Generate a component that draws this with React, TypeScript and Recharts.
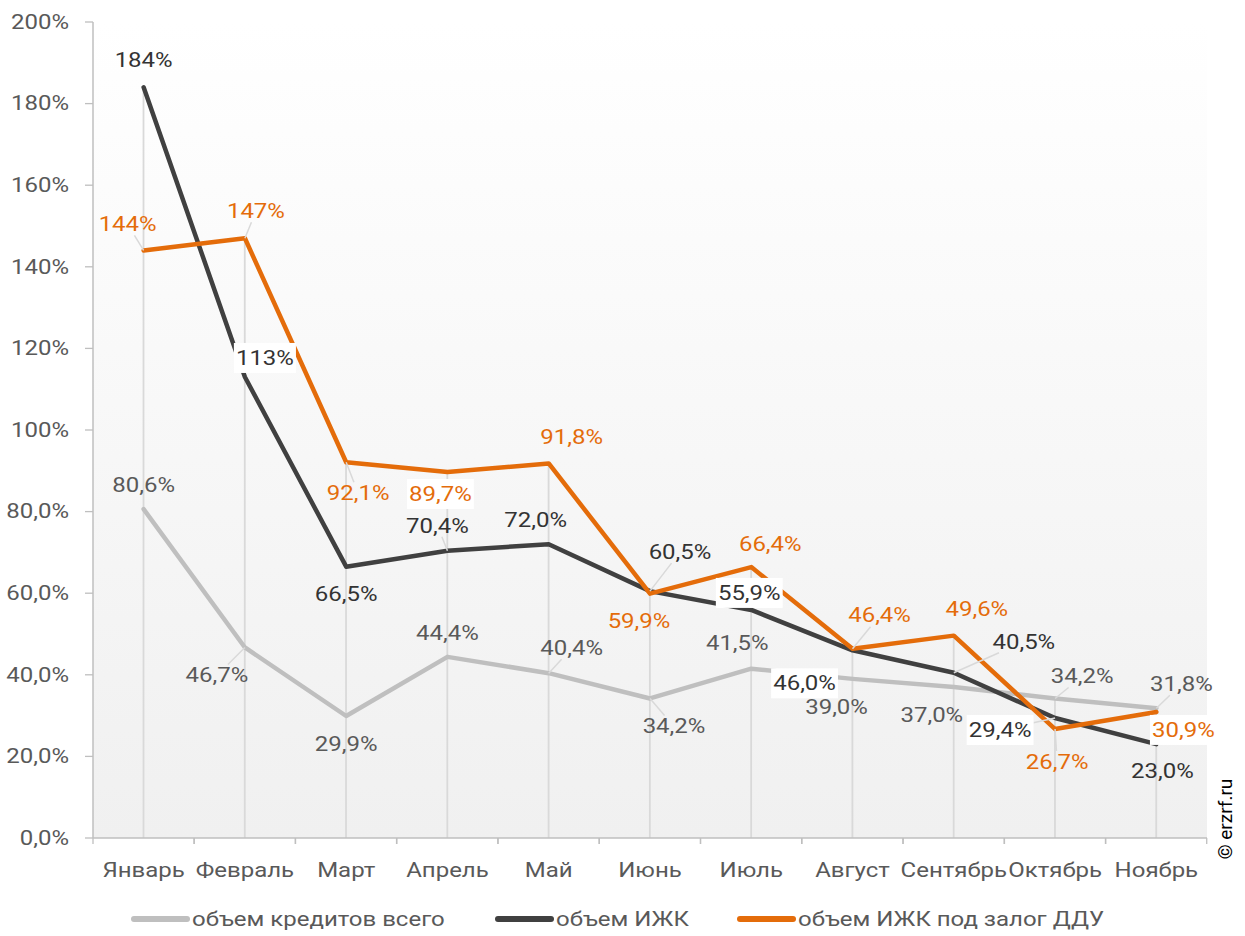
import React from 'react';
import { ComposedChart, Line, Bar, XAxis, YAxis, LabelList, CartesianGrid } from 'recharts';

const months = ['Январь', 'Февраль', 'Март', 'Апрель', 'Май', 'Июнь', 'Июль', 'Август', 'Сентябрь', 'Октябрь', 'Ноябрь'];
const totalCredits = [80.6, 46.7, 29.9, 44.4, 40.4, 34.2, 41.5, 39.0, 37.0, 34.2, 31.8];
const izhk = [184, 113, 66.5, 70.4, 72.0, 60.5, 55.9, 46.0, 40.5, 29.4, 23.0];
const izhkDdu = [144, 147, 92.1, 89.7, 91.8, 59.9, 66.4, 46.4, 49.6, 26.7, 30.9];
const yTicks = [0, 20, 40, 60, 80, 100, 120, 140, 160, 180, 200];
const seriesNames = ['объем кредитов всего', 'объем ИЖК', 'объем ИЖК под залог ДДУ'];
const copyright = '© erzrf.ru';

// label placement relative to the point (px): [dx, dy, whiteBackground, leaderLine]
const totalLabelPos: [number, number, boolean, boolean][] = [
  [0, -24, false, false], [-28, 28, false, true], [0, 28, false, false], [0, -24, false, false],
  [23, -25, false, true], [24, 28, false, true], [-14, -25, false, false], [-16, 28, false, false],
  [-22, 28, false, false], [27, -22, false, true], [25, -24, false, true],
];
const izhkLabelPos: [number, number, boolean, boolean][] = [
  [0, -27, false, false], [20, -19, true, false], [0, 28, false, false], [-10, -25, false, true],
  [-13, -24, false, false], [30, -39, false, true], [-2, -17, true, false], [-48, 33, true, false],
  [70, -31, false, true], [-55, 12, true, true], [6, 27, false, false],
];
const izhkDduLabelPos: [number, number, boolean, boolean][] = [
  [-16, -26, false, true], [11, -27, false, true], [12, 31, false, true], [-7, 22, true, false],
  [23, -26, false, false], [-11, 28, false, false], [19, -23, false, false], [27, -33, false, true],
  [23, -26, false, false], [2, 33, false, true], [27, 18, true, false],
];

const data = months.map((m, i) => ({
  month: m,
  total: totalCredits[i],
  izhk: izhk[i],
  ddu: izhkDdu[i],
  top: Math.max(totalCredits[i], izhk[i], izhkDdu[i]),
}));

const COLORS = { total: '#bfbfbf', izhk: '#404040', ddu: '#e46c0a' };
const LABEL_COLORS = { total: '#595959', izhk: '#333333', ddu: '#e46c0a' };
const FONT = 'Roboto, "Noto Sans", sans-serif';
const SX = 1.2;
const FS = 20;

const fmt = (v: number) => (v >= 100 ? `${Math.round(v)}%` : `${v.toFixed(1).replace('.', ',')}%`);

const charW = (c: string) => {
  if (/[0-9]/.test(c)) return 0.562;
  if (c === ',') return 0.2;
  if (c === '%') return 0.733;
  return 0.55;
};
const textWidth = (t: string) => t.split('').reduce((s, c) => s + charW(c), 0) * FS * SX;

function makeLabel(values: number[], pos: [number, number, boolean, boolean][], color: string) {
  return (props: any) => {
    const { x, y, value } = props;
    let index = props.index;
    if (index === undefined || index === null) index = values.indexOf(Number(value));
    const p = pos[index] || [0, -24, false, false];
    const [dx, dy, bg, leader] = p;
    const cx = x + dx;
    const cy = y + dy;
    const text = fmt(Number(value));
    const w = textWidth(text);
    const hw = w / 2 + 2;
    const hh = 11;
    let leaderEl = null;
    if (leader) {
      const vx = x - cx;
      const vy = y - cy;
      const f = Math.min(Math.abs(vx) > 0.01 ? hw / Math.abs(vx) : 1e9, Math.abs(vy) > 0.01 ? hh / Math.abs(vy) : 1e9);
      const ex = cx + vx * f;
      const ey = cy + vy * f;
      leaderEl = <line x1={x} y1={y} x2={ex} y2={ey} stroke="#d9d9d9" strokeWidth={1.5} />;
    }
    return (
      <g>
        {leaderEl}
        {bg && <rect x={cx - hw} y={cy - 15} width={hw * 2} height={30} fill="#ffffff" />}
        <g transform={`translate(${cx},${cy}) scale(${SX},1)`}>
          <text x={0} y={0} textAnchor="middle" dominantBaseline="central" fontFamily={FONT} fontSize={FS} fontWeight={400} fill={color}>
            {text}
          </text>
        </g>
      </g>
    );
  };
}

const DropLine = (props: any) => {
  const { x, y, width, height } = props;
  if (x === undefined) return null;
  const cx = x + width / 2;
  const bottom = y + height;
  return (
    <g>
      <line x1={cx} y1={y} x2={cx} y2={bottom} stroke="#d9d9d9" strokeWidth={1.8} />
      <line x1={x} y1={bottom} x2={x} y2={bottom + 6} stroke="#bfbfbf" strokeWidth={1.3} />
      <line x1={x + width} y1={bottom} x2={x + width} y2={bottom + 6} stroke="#bfbfbf" strokeWidth={1.3} />
    </g>
  );
};

const XTick = (props: any) => {
  const { x, y, payload } = props;
  return (
    <g transform={`translate(${x},${y + 24}) scale(${SX},1)`}>
      <text x={0} y={0} textAnchor="middle" dominantBaseline="central" fontFamily={FONT} fontSize={FS} fill="#595959">
        {payload.value}
      </text>
    </g>
  );
};

const YTick = (props: any) => {
  const { x, y, payload } = props;
  const v = Number(payload.value);
  return (
    <g transform={`translate(${x},${y}) scale(${SX},1)`}>
      <text x={0} y={0} textAnchor="end" dominantBaseline="central" fontFamily={FONT} fontSize={FS} fill="#595959">
        {fmt(v)}
      </text>
    </g>
  );
};

const legendItems = [
  { name: seriesNames[0], color: COLORS.total, x: 131 },
  { name: seriesNames[1], color: COLORS.izhk, x: 495 },
  { name: seriesNames[2], color: COLORS.ddu, x: 737 },
];

export default function App() {
  return (
    <div style={{ position: 'absolute', left: 0, top: 0, width: 1245, height: 936, background: '#ffffff' }}>
      <svg width={0} height={0} style={{ position: 'absolute' }}>
        <defs>
          <linearGradient id="plotBg" x1="0" y1="0" x2="0" y2="1">
            <stop offset="0%" stopColor="#ffffff" />
            <stop offset="100%" stopColor="#f0f0f0" />
          </linearGradient>
        </defs>
      </svg>
      <ComposedChart
        width={1245}
        height={936}
        data={data}
        margin={{ top: 22, right: 38, bottom: 38, left: 0 }}
        barCategoryGap={0}
        barGap={0}
      >
        <CartesianGrid horizontal={false} vertical={false} fill="url(#plotBg)" stroke="none" />
        <XAxis
          dataKey="month"
          height={60}
          tickLine={false}
          axisLine={{ stroke: '#bfbfbf', strokeWidth: 1.5 }}
          tick={<XTick />}
          interval={0}
        />
        <YAxis
          width={93}
          domain={[0, 200]}
          ticks={yTicks}
          interval={0}
          tickSize={8}
          tickMargin={16}
          tickLine={{ stroke: '#bfbfbf', strokeWidth: 1.3 }}
          axisLine={{ stroke: '#bfbfbf', strokeWidth: 1.5 }}
          tick={<YTick />}
        />
        <Bar dataKey="top" isAnimationActive={false} shape={<DropLine />} legendType="none" />
        <Line
          dataKey="total"
          stroke={COLORS.total}
          strokeWidth={4.5}
          strokeLinecap="round"
          strokeLinejoin="round"
          dot={false}
          activeDot={false}
          isAnimationActive={false}
        >
          <LabelList dataKey="total" content={makeLabel(totalCredits, totalLabelPos, LABEL_COLORS.total)} />
        </Line>
        <Line
          dataKey="izhk"
          stroke={COLORS.izhk}
          strokeWidth={4.5}
          strokeLinecap="round"
          strokeLinejoin="round"
          dot={false}
          activeDot={false}
          isAnimationActive={false}
        >
          <LabelList dataKey="izhk" content={makeLabel(izhk, izhkLabelPos, LABEL_COLORS.izhk)} />
        </Line>
        <Line
          dataKey="ddu"
          stroke={COLORS.ddu}
          strokeWidth={4.5}
          strokeLinecap="round"
          strokeLinejoin="round"
          dot={false}
          activeDot={false}
          isAnimationActive={false}
        >
          <LabelList dataKey="ddu" content={makeLabel(izhkDdu, izhkDduLabelPos, LABEL_COLORS.ddu)} />
        </Line>
      </ComposedChart>
      <svg width={1245} height={936} style={{ position: 'absolute', left: 0, top: 0, pointerEvents: 'none' }}>
        {legendItems.map((it) => (
          <g key={it.name}>
            <line x1={it.x + 3} y1={919} x2={it.x + 56} y2={919} stroke={it.color} strokeWidth={6} strokeLinecap="round" />
            <g transform={`translate(${it.x + 61},919) scale(${SX},1)`}>
              <text x={0} y={0} dominantBaseline="central" fontFamily={FONT} fontSize={FS} fill="#595959">
                {it.name}
              </text>
            </g>
          </g>
        ))}
        <g transform="translate(1225,819) rotate(-90)">
          <text x={0} y={0} textAnchor="middle" dominantBaseline="central" fontFamily={FONT} fontSize={19} fill="#000000">
            {copyright}
          </text>
        </g>
      </svg>
    </div>
  );
}
